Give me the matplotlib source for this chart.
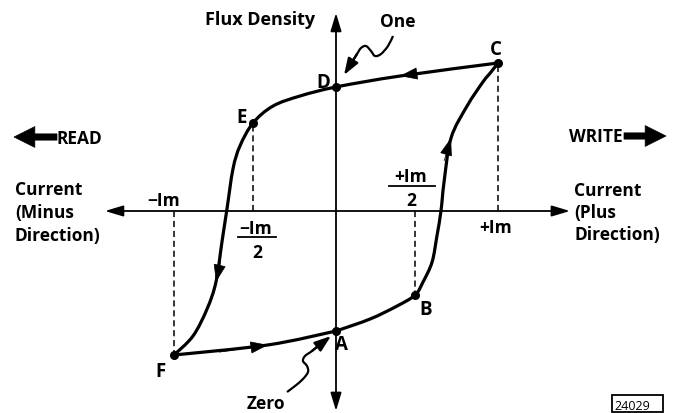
import numpy as np
import matplotlib
matplotlib.use("Agg")
import matplotlib.pyplot as plt
import matplotlib.transforms as mtransforms
from matplotlib.path import Path
from matplotlib.patches import PathPatch, Rectangle

# hysteresis loop: x in units of Im, y in units of the peak flux (point C)
up_x = [0.0, 0.21, 0.377, 0.488, 0.537, 0.593, 0.623, 0.648, 0.667, 0.710, 0.809, 0.907, 0.957, 1.0]
up_y = [-0.811, -0.730, -0.642, -0.568, -0.480, -0.345, -0.169, 0.0, 0.196, 0.493, 0.709, 0.872, 0.939, 1.0]
down_x = [1.0, 0.395, 0.0, -0.222, -0.389, -0.512, -0.593, -0.636, -0.673, -0.704, -0.741, -0.796, -0.883, -1.0]
down_y = [1.0, 0.912, 0.838, 0.777, 0.709, 0.595, 0.439, 0.284, 0.014, -0.209, -0.480, -0.662, -0.845, -0.973]
back_x = [-1.0, -0.420, 0.0]
back_y = [-0.973, -0.905, -0.811]

point_names = ["A", "B", "C", "D", "E", "F"]
point_x = [0.0, 0.488, 1.0, 0.0, -0.512, -1.0]
point_y = [-0.811, -0.568, 1.0, 0.838, 0.595, -0.973]
dashed_points = ["E", "C", "B", "F"]

# index of the branch point where an arrow head sits
up_arrows = [9]
down_arrows = [1, 10]
back_arrows = [1]

FONT = "Open Sans"
FS = 12.5
WEIGHT = "bold"


def smooth(xs, ys):
    # catmull-rom through the points, drawn as cubic beziers
    p = np.column_stack([xs, ys]).astype(float)
    n = len(p)
    verts = [p[0]]
    codes = [Path.MOVETO]
    for i in range(n - 1):
        p0 = p[i - 1] if i > 0 else p[i]
        p1, p2 = p[i], p[i + 1]
        p3 = p[i + 2] if i + 2 < n else p[i + 1]
        verts += [p1 + (p2 - p0) / 6, p2 - (p3 - p1) / 6, p2]
        codes += [Path.CURVE4] * 3
    return Path(verts, codes)


fig = plt.figure(figsize=(6.77, 4.14), dpi=100)
fig.set_facecolor("white")
ax = fig.add_axes([0, 0, 1, 1])
ax.set_axis_off()
# origin at pixel (336, 212); Im = 162 px, peak flux = 148 px
ax.set_xlim(-336 / 162, (677 - 336) / 162)
ax.set_ylim(-(414 - 212) / 148, 212 / 148)
ax.set_autoscale_on(False)

# pixel coordinates measured from the top-left, for labels and decorations
pix = mtransforms.Affine2D().scale(1 / 100, -1 / 100).translate(0, 4.14) + fig.dpi_scale_trans

# axes with arrow heads
axis_kw = dict(arrowstyle="-|>,head_length=1.1,head_width=0.33", color="black",
               lw=1.3, shrinkA=0, shrinkB=0, mutation_scale=10)
for tip in [(0, 1.338), (0, -1.351), (-1.426, 0), (1.444, 0)]:
    ax.annotate("", xy=tip, xytext=(0, 0), arrowprops=axis_kw)

# dashed drop lines
for name in dashed_points:
    i = point_names.index(name)
    ax.plot([point_x[i], point_x[i]], [0, point_y[i]], color="black", lw=1.1,
            dashes=(4, 2.5))

# loop branches, arrow heads follow the local tangent
for xs, ys, arrows in [(up_x, up_y, up_arrows), (down_x, down_y, down_arrows),
                       (back_x, back_y, back_arrows)]:
    ax.add_patch(PathPatch(smooth(xs, ys), fill=False, lw=2.3, ec="black",
                           capstyle="round", joinstyle="round"))
    for k in arrows:
        tx = xs[k] - 0.3 * (xs[k + 1] - xs[k - 1])
        ty = ys[k] - 0.3 * (ys[k + 1] - ys[k - 1])
        ax.annotate("", xy=(xs[k], ys[k]), xytext=(tx, ty),
                    arrowprops=dict(arrowstyle="-|>,head_length=1.15,head_width=0.4",
                                    color="black", lw=0.5, shrinkA=0, shrinkB=0,
                                    mutation_scale=10))

ax.plot(point_x, point_y, "o", color="black", markersize=5.5)


def label(x, y, s, ha="left", fs=FS, weight=WEIGHT):
    ax.text(x, y, s, transform=pix, fontsize=fs, family=FONT, weight=weight,
            ha=ha, va="baseline")


# point letters (pixel positions)
letter_pos = {"A": (335, 350), "B": (419, 315), "C": (490, 55), "D": (316, 88),
              "E": (236, 123), "F": (155, 377)}
for name in point_names:
    x, y = letter_pos[name]
    label(x, y, name, fs=13.5)

label(205, 25, "Flux Density", fs=13)
label(380, 27, "One")
label(247, 409, "Zero")
label(57, 144, "READ")
label(569, 142, "WRITE")
label(15, 195, "Current")
label(15, 218, "(Minus")
label(15, 241, "Direction)")
label(574, 196, "Current")
label(574, 218, "(Plus")
label(574, 240, "Direction)")
label(147, 206, "\u2212Im")
label(479, 233, "+Im")
# fractions
label(256, 234, "\u2212Im", ha="center")
label(257, 258, "2", ha="center")
ax.plot([238, 276], [238, 238], transform=pix, color="black", lw=1.3)
label(411, 182, "+Im", ha="center")
label(411, 206, "2", ha="center")
ax.plot([389, 435], [187, 187], transform=pix, color="black", lw=1.3)

# block arrows beside READ / WRITE
block_kw = dict(arrowstyle="simple,head_length=1.0,head_width=1.0,tail_width=0.3",
                fc="black", ec="black", lw=0.5, shrinkA=0, shrinkB=0, mutation_scale=15)
ax.annotate("", xy=(14, 138), xytext=(57, 138), xycoords=pix, textcoords=pix,
            arrowprops=block_kw)
ax.annotate("", xy=(666, 137), xytext=(624, 137), xycoords=pix, textcoords=pix,
            arrowprops=block_kw)

# wavy pointers to "One" and "Zero"
one_sq = [(393, 37), (388, 47), (381, 55), (375, 57), (371, 52), (366, 47),
          (361, 49), (357, 55), (352, 63), (344, 76)]
zero_sq = [(287, 393), (295, 387), (303, 380), (308, 373), (307, 367), (303, 362),
           (305, 357), (312, 352), (320, 345), (331, 337)]
for sq in [one_sq, zero_sq]:
    xs, ys = zip(*sq)
    ax.add_patch(PathPatch(smooth(xs[:-1], ys[:-1]), fill=False, lw=1.6, ec="black",
                           transform=pix))
    ax.annotate("", xy=sq[-1], xytext=sq[-3], xycoords=pix, textcoords=pix,
                arrowprops=dict(arrowstyle="-|>,head_length=1.0,head_width=0.35",
                                color="black", lw=1.6, shrinkA=0, shrinkB=0,
                                mutation_scale=10))

# figure number box
ax.add_patch(Rectangle((612, 396), 51, 17, transform=pix, fill=False, lw=1.3,
                       ec="black", clip_on=False))
label(614, 410, "24029", fs=9, weight="normal")

fig.savefig("out.png", dpi=100, facecolor="white")
